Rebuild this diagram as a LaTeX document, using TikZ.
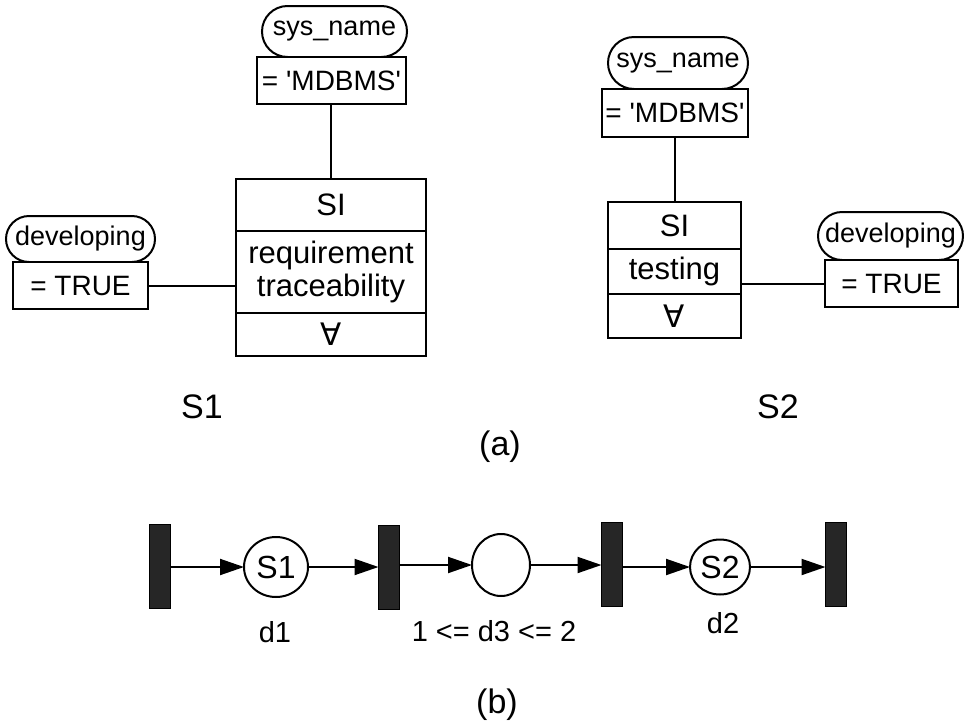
\documentclass[tikz,border=0pt]{standalone}
\usepackage{fontspec}
\setmainfont{Liberation Sans}
\newfontfamily\symfont{DejaVu Sans}
\usetikzlibrary{shapes.misc,shapes.geometric,arrows.meta}
\begin{document}
\begin{tikzpicture}[x=1pt,y=-1pt,
  every node/.style={inner sep=0pt, outer sep=0pt},
  box/.style={draw, line width=2pt, rectangle, font=\fontsize{28}{30}\selectfont},
  cell/.style={draw, line width=2pt, rectangle, align=center, font=\fontsize{31}{35}\selectfont},
  oval/.style={draw, line width=2pt, rounded rectangle, font=\fontsize{27}{30}\selectfont},
  conn/.style={line width=2pt},
  bar/.style={fill=black!85, draw=black, line width=0.8pt, minimum width=21pt, minimum height=84pt},
  place/.style={draw, ellipse, line width=2pt, font=\fontsize{32}{34}\selectfont},
  arr/.style={line width=2pt, -{Triangle[length=24pt,width=16pt]}},
  lbl/.style={font=\fontsize{34}{36}\selectfont},
  dl/.style={font=\fontsize{29}{30}\selectfont}
]
\useasboundingbox (0,0) rectangle (964,726);

% ---------- S1 ----------
\node[oval, minimum width=145pt, minimum height=51pt] (sn1) at (334.5,31.5) {sys\_name};
\node[box, fill=white, minimum width=149pt, minimum height=47pt] (md1) at (331.5,80.5) {= \textquotesingle MDBMS\textquotesingle};
\node[cell, minimum width=190pt, minimum height=52pt] (si1) at (331,205) {SI};
\node[cell, minimum width=190pt, minimum height=82pt] (rt1) at (331,272) {requirement\\[-2pt]traceability};
\node[cell, minimum width=190pt, minimum height=43pt] (fa1) at (331,334.5) {\symfont ∀};
\node[oval, minimum width=149pt, minimum height=46pt] (dv1) at (80.5,239) {developing};
\node[box, fill=white, minimum width=135pt, minimum height=47pt] (tr1) at (80.5,285.5) {= TRUE};
\draw[conn] (md1.south -| si1.north) -- (si1.north);
\draw[conn] (tr1.east) -- (tr1.east -| rt1.west);
\node[lbl] (s1lbl) at (202,407) {S1};

% ---------- S2 ----------
\node[oval, minimum width=140pt, minimum height=52pt] (sn2) at (678,63) {sys\_name};
\node[box, fill=white, minimum width=146pt, minimum height=48pt] (md2) at (675,113) {= \textquotesingle MDBMS\textquotesingle};
\node[cell, minimum width=133pt, minimum height=47pt] (si2) at (674.5,225.5) {SI};
\node[cell, minimum width=133pt, minimum height=45pt] (ts2) at (674.5,271.5) {testing};
\node[cell, minimum width=133pt, minimum height=44pt] (fa2) at (674.5,316) {\symfont ∀};
\node[oval, minimum width=145pt, minimum height=48pt] (dv2) at (890.5,236) {developing};
\node[box, fill=white, minimum width=133pt, minimum height=47pt] (tr2) at (891.5,283.5) {= TRUE};
\draw[conn] (md2.south -| si2.north) -- (si2.north);
\draw[conn] (ts2.east |- tr2.west) -- (tr2.west);
\node[lbl] (s2lbl) at (778,407) {S2};

\node[lbl] (la) at (500,447) {(a)};

% ---------- (b) ----------
\node[bar] (b1) at (160,566.5) {};
\node[place, minimum width=64pt, minimum height=60pt] (p1) at (276,567) {S1};
\node[bar] (b2) at (389,567) {};
\node[place, minimum width=58pt, minimum height=62pt] (p2) at (501,565) {};
\node[bar] (b3) at (612,564) {};
\node[place, minimum width=60pt, minimum height=55pt] (p3) at (720,567) {S2};
\node[bar] (b4) at (836,564) {};

\draw[arr] (b1.east |- p1.west) -- (p1.west);
\draw[arr] (p1.east) -- (p1.east -| b2.west);
\draw[arr] (b2.east |- p2.west) -- (p2.west);
\draw[arr] (p2.east) -- (p2.east -| b3.west);
\draw[arr] (b3.east |- p3.west) -- (p3.west);
\draw[arr] (p3.east) -- (p3.east -| b4.west);

\node[dl] (d1) at (275,632) {d1};
\node[dl] (d3) at (494,631) {1 <= d3 <= 2};
\node[dl] (d2) at (723,623) {d2};

\node[lbl] (lb) at (497,705) {(b)};
\end{tikzpicture}
\end{document}
